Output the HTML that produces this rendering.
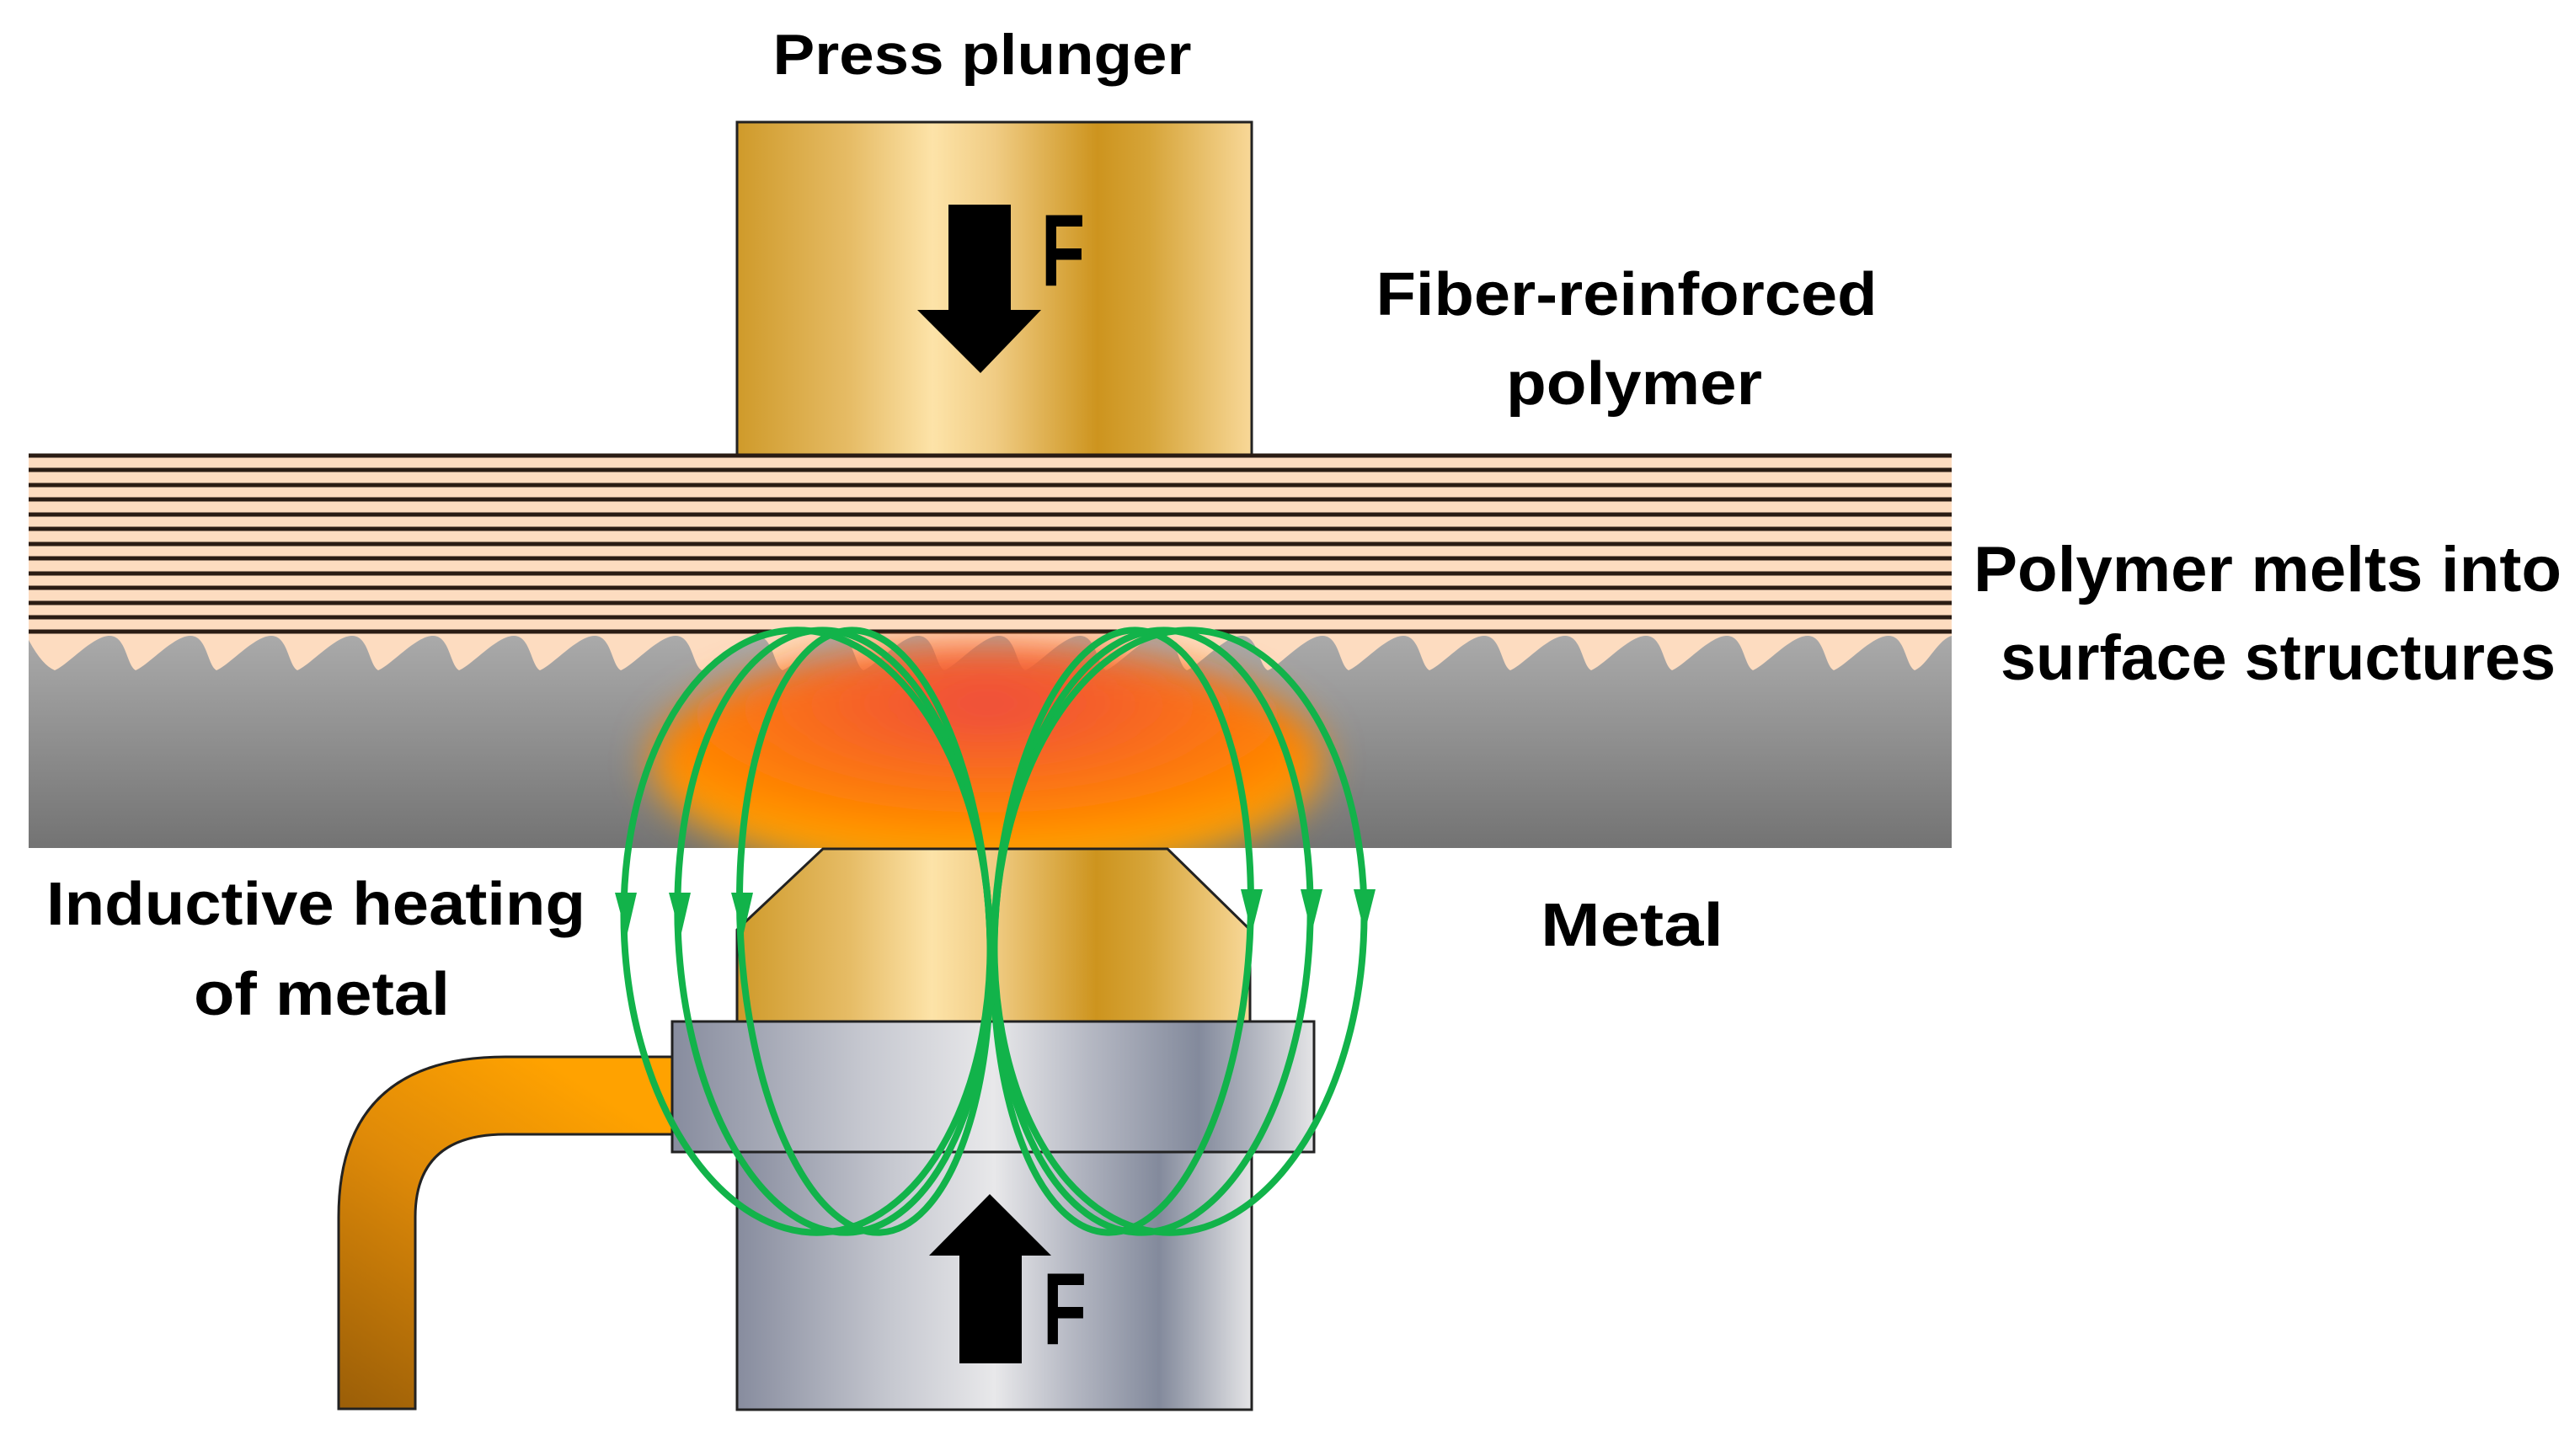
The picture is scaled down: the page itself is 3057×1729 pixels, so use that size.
<!DOCTYPE html>
<html><head><meta charset="utf-8"><style>
html,body{margin:0;padding:0;background:#fff;}
svg{display:block;}
text{font-family:"Liberation Sans",sans-serif;font-weight:bold;fill:#000;}
</style></head><body>
<svg width="3057" height="1729" viewBox="0 0 3057 1729" xmlns="http://www.w3.org/2000/svg">
<defs>
<linearGradient id="gold" x1="0" x2="1" y1="0" y2="0">
<stop offset="0" stop-color="#cf9a2a"/><stop offset="0.22" stop-color="#e6bc66"/>
<stop offset="0.38" stop-color="#fde3a8"/><stop offset="0.5" stop-color="#f0cc84"/>
<stop offset="0.7" stop-color="#cd941e"/><stop offset="0.8" stop-color="#d6a438"/>
<stop offset="1" stop-color="#f8d898"/></linearGradient>
<linearGradient id="silver" x1="0" x2="1" y1="0" y2="0">
<stop offset="0" stop-color="#878c9e"/><stop offset="0.3" stop-color="#c6c8d0"/>
<stop offset="0.5" stop-color="#e8e8ea"/><stop offset="0.65" stop-color="#b5b8c3"/>
<stop offset="0.82" stop-color="#838a9c"/><stop offset="1" stop-color="#e4e4e6"/></linearGradient>
<linearGradient id="metal" x1="0" x2="0" y1="0" y2="1">
<stop offset="0" stop-color="#aaaaaa"/><stop offset="1" stop-color="#737373"/></linearGradient>
<linearGradient id="pipe" x1="0" x2="0.6" y1="1" y2="0">
<stop offset="0" stop-color="#9a5e08"/><stop offset="0.6" stop-color="#df8a08"/><stop offset="1" stop-color="#ffa200"/></linearGradient>
<radialGradient id="heat" cx="0.5" cy="0.25" r="0.75">
<stop offset="0" stop-color="#ee4a40"/><stop offset="0.35" stop-color="#f86a20"/>
<stop offset="0.65" stop-color="#ff8400"/><stop offset="1" stop-color="#ffb400"/></radialGradient>
<filter id="blur" x="-20%" y="-40%" width="140%" height="180%"><feGaussianBlur stdDeviation="22"/></filter>
<clipPath id="mclip"><rect x="34" y="751" width="2283" height="256"/></clipPath>
</defs>

<text x="1166" y="88" font-size="68" text-anchor="middle" textLength="497" lengthAdjust="spacingAndGlyphs">Press plunger</text>
<text x="1931" y="374" font-size="72" text-anchor="middle" textLength="595" lengthAdjust="spacingAndGlyphs">Fiber-reinforced</text>
<text x="1940" y="480" font-size="72" text-anchor="middle" textLength="304" lengthAdjust="spacingAndGlyphs">polymer</text>
<text x="2343" y="702" font-size="76" textLength="698" lengthAdjust="spacingAndGlyphs">Polymer melts into</text>
<text x="2375" y="807" font-size="76" textLength="659" lengthAdjust="spacingAndGlyphs">surface structures</text>
<text x="55" y="1098" font-size="72" textLength="640" lengthAdjust="spacingAndGlyphs">Inductive heating</text>
<text x="230" y="1205" font-size="72" textLength="304" lengthAdjust="spacingAndGlyphs">of metal</text>
<text x="1829" y="1123" font-size="72" textLength="217" lengthAdjust="spacingAndGlyphs">Metal</text>

<rect x="875" y="145" width="611" height="395" fill="url(#gold)" stroke="#222" stroke-width="3"/>
<polygon points="1126,243 1200,243 1200,368 1236,368 1164,443 1089,368 1126,368" fill="#000"/>
<text x="1236" y="339" font-size="122" textLength="52" lengthAdjust="spacingAndGlyphs">F</text>

<rect x="34" y="540" width="2283" height="256" fill="#fddcc0"/>
<g stroke="#2a1c14" stroke-width="5">
<line x1="34" y1="541" x2="2317" y2="541"/><line x1="34" y1="558" x2="2317" y2="558"/>
<line x1="34" y1="576" x2="2317" y2="576"/><line x1="34" y1="593" x2="2317" y2="593"/>
<line x1="34" y1="611" x2="2317" y2="611"/><line x1="34" y1="628" x2="2317" y2="628"/>
<line x1="34" y1="646" x2="2317" y2="646"/><line x1="34" y1="663" x2="2317" y2="663"/>
<line x1="34" y1="681" x2="2317" y2="681"/><line x1="34" y1="698" x2="2317" y2="698"/>
<line x1="34" y1="716" x2="2317" y2="716"/><line x1="34" y1="733" x2="2317" y2="733"/>
<line x1="34" y1="750" x2="2317" y2="750"/></g>

<path fill="url(#metal)" d="M34,760 Q50,790 65,796 C80,790 110,755 130,755 C150,755 150,790 161,796 C176,790 206,755 226,755 C246,755 246,790 257,796 C272,790 302,755 322,755 C342,755 342,790 353,796 C368,790 398,755 418,755 C438,755 438,790 449,796 C464,790 494,755 514,755 C534,755 534,790 545,796 C560,790 590,755 610,755 C630,755 630,790 641,796 C656,790 686,755 706,755 C726,755 726,790 737,796 C752,790 782,755 802,755 C822,755 822,790 833,796 C848,790 878,755 898,755 C918,755 918,790 929,796 C944,790 974,755 994,755 C1014,755 1014,790 1025,796 C1040,790 1070,755 1090,755 C1110,755 1110,790 1121,796 C1136,790 1166,755 1186,755 C1206,755 1206,790 1217,796 C1232,790 1262,755 1282,755 C1302,755 1302,790 1313,796 C1328,790 1358,755 1378,755 C1398,755 1398,790 1409,796 C1424,790 1454,755 1474,755 C1494,755 1494,790 1505,796 C1520,790 1550,755 1570,755 C1590,755 1590,790 1601,796 C1616,790 1646,755 1666,755 C1686,755 1686,790 1697,796 C1712,790 1742,755 1762,755 C1782,755 1782,790 1793,796 C1808,790 1838,755 1858,755 C1878,755 1878,790 1889,796 C1904,790 1934,755 1954,755 C1974,755 1974,790 1985,796 C2000,790 2030,755 2050,755 C2070,755 2070,790 2081,796 C2096,790 2126,755 2146,755 C2166,755 2166,790 2177,796 C2192,790 2222,755 2242,755 C2262,755 2262,790 2273,796 C2288,790 2300,760 2317,755 L2317,1007 L34,1007 Z"/>
<ellipse cx="1172" cy="905" rx="400" ry="140" fill="url(#heat)" filter="url(#blur)" clip-path="url(#mclip)"/>

<path d="M402,1673 L402,1445 Q402,1255 600,1255 L800,1255 L800,1347 L600,1347 Q493,1347 493,1445 L493,1673 Z" fill="url(#pipe)" stroke="#222" stroke-width="3"/>

<polygon points="977,1008 1386,1008 1484,1104 1484,1213 875,1213 875,1104" fill="url(#gold)" stroke="#222" stroke-width="3"/>
<rect x="875" y="1368" width="611" height="306" fill="url(#silver)" stroke="#222" stroke-width="3"/>
<rect x="798" y="1213" width="762" height="155" fill="url(#silver)" stroke="#222" stroke-width="3"/>
<polygon points="1175,1418 1248,1491 1213,1491 1213,1619 1139,1619 1139,1491 1103,1491" fill="#000"/>
<text x="1238" y="1596" font-size="122" textLength="52" lengthAdjust="spacingAndGlyphs">F</text>

<g fill="none" stroke="#12b34a" stroke-width="8">
<ellipse cx="958" cy="1106" rx="217" ry="358" transform="rotate(-3 958 1106)"/>
<ellipse cx="990" cy="1106" rx="185" ry="358" transform="rotate(-3 990 1106)"/>
<ellipse cx="1027" cy="1106" rx="148" ry="358" transform="rotate(-3 1027 1106)"/>
<ellipse cx="1332" cy="1106" rx="152" ry="358" transform="rotate(3 1332 1106)"/>
<ellipse cx="1368" cy="1106" rx="187" ry="358" transform="rotate(3 1368 1106)"/>
<ellipse cx="1400" cy="1106" rx="219" ry="358" transform="rotate(3 1400 1106)"/>
</g>
<g fill="#12b34a">
<polygon points="730,1060 756,1060 744,1112"/>
<polygon points="794,1060 820,1060 808,1112"/>
<polygon points="868,1060 894,1060 882,1112"/>
<polygon points="1473,1056 1499,1056 1486,1108"/>
<polygon points="1544,1056 1570,1056 1557,1108"/>
<polygon points="1607,1056 1633,1056 1620,1108"/>
</g>
</svg>
</body></html>
